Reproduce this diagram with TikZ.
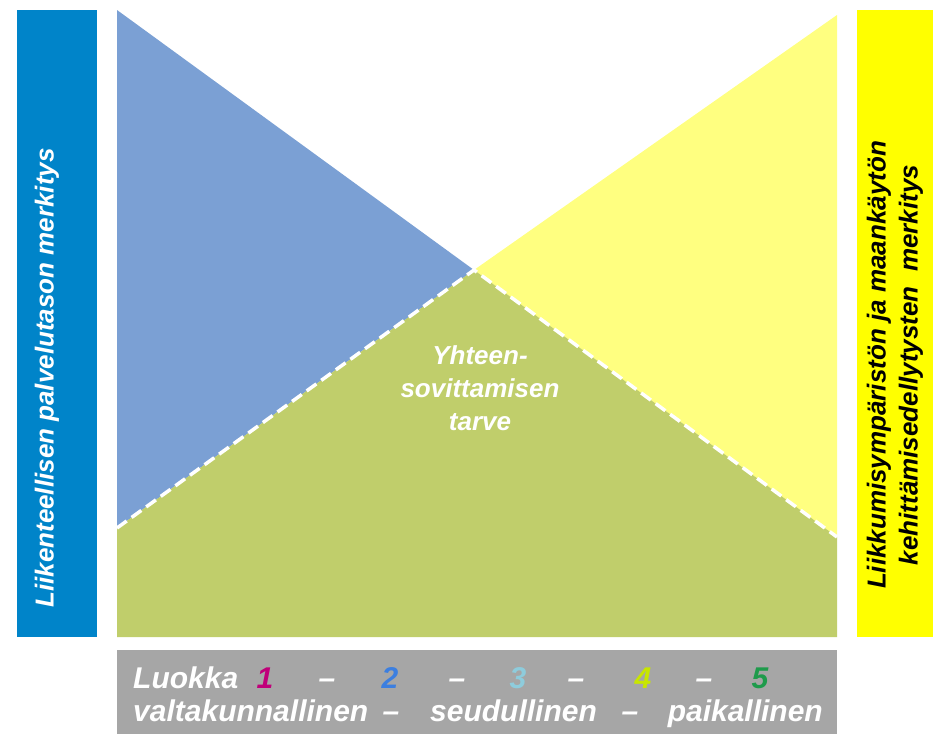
\documentclass[tikz,border=0pt]{standalone}
\usepackage{fontspec}
\setmainfont{Liberation Sans}
\definecolor{barblue}{RGB}{0,132,201}
\definecolor{baryellow}{RGB}{255,255,0}
\definecolor{triblue}{RGB}{123,160,212}
\definecolor{triyellow}{RGB}{255,255,128}
\definecolor{trigreen}{RGB}{192,206,107}
\definecolor{bandgrey}{RGB}{166,166,166}
\definecolor{numone}{RGB}{192,0,122}
\definecolor{numtwo}{RGB}{60,127,224}
\definecolor{numthree}{RGB}{142,204,220}
\definecolor{numfour}{RGB}{200,230,0}
\definecolor{numfive}{RGB}{30,155,75}

\begin{document}
\begin{tikzpicture}[
  x=1pt, y=-1pt,
  bartext/.style={font=\fontsize{26}{32}\selectfont\bfseries\itshape, align=center, rotate=90, inner sep=0pt},
  midtext/.style={font=\fontsize{26}{33}\selectfont\bfseries\itshape, align=center, text=white},
  lbl/.style={font=\fontsize{30}{32}\selectfont\bfseries\itshape, text=white, anchor=base, inner sep=0pt},
  seam/.style={draw=white, line width=3.5pt, dash pattern=on 12pt off 6pt}
]
  \useasboundingbox (0,0) rectangle (943,734);
  % side bars and bottom band
  \fill[barblue] (17,10) rectangle (97,637);
  \fill[baryellow] (857,10) rectangle (933,637);
  \fill[bandgrey] (117,650) rectangle (837,734);
  % triangles
  \coordinate (tl) at (117,10);
  \coordinate (tr) at (837,15);
  \coordinate (apex) at (474,270);
  \coordinate (bl) at (117,528);
  \coordinate (br) at (837,537);
  \coordinate (gl) at (117,637);
  \coordinate (gr) at (837,637);
  \fill[triblue] (tl) -- (apex) -- (bl) -- cycle;
  \fill[triyellow] (tr) -- (apex) -- (br) -- cycle;
  \fill[trigreen] (bl) -- (apex) -- (br) -- (gr) -- (gl) -- cycle;
  \draw[seam] (bl) -- (apex) -- (br);
  % texts
  \node[bartext, text=white] (lefttext) at (47,378) {Liikenteellisen palvelutason merkitys};
  \node[bartext, text=black] (righttext) at (895,365) {Liikkumisympäristön ja maankäytön\\kehittämisedellytysten\ \ merkitys};
  \node[midtext] (need) at (480,388) {Yhteen-\\sovittamisen\\tarve};
  % class row
  \node[lbl, anchor=base west] (luokka) at (133,688) {Luokka};
  \node[lbl, text=numone] (c1) at (265,688) {1};
  \node[lbl] (d1) at (327,688) {--};
  \node[lbl, text=numtwo] (c2) at (390,688) {2};
  \node[lbl] (d2) at (457,688) {--};
  \node[lbl, text=numthree] (c3) at (518,688) {3};
  \node[lbl] (d3) at (576,688) {--};
  \node[lbl, text=numfour] (c4) at (643,688) {4};
  \node[lbl] (d4) at (704,688) {--};
  \node[lbl, text=numfive] (c5) at (760,688) {5};
  % level row
  \node[lbl, anchor=base west] (national) at (133,721) {valtakunnallinen};
  \node[lbl] (d5) at (391,721) {--};
  \node[lbl, anchor=base west] (regional) at (430,721) {seudullinen};
  \node[lbl] (d6) at (630,721) {--};
  \node[lbl, anchor=base east] (local) at (823,721) {paikallinen};
\end{tikzpicture}
\end{document}
